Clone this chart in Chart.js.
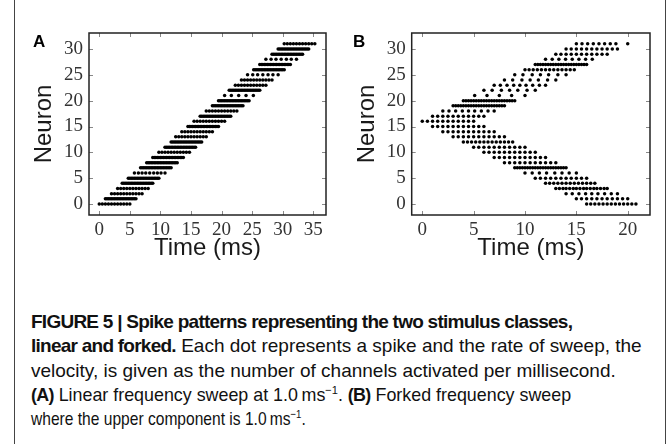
<!DOCTYPE html>
<html>
<head>
<meta charset="utf-8">
<script src="https://cdn.jsdelivr.net/npm/chart.js@4"></script>
<style>
html, body { margin: 0; padding: 0; background: #fff; }
#fig { position: relative; width: 671px; height: 444px; overflow: hidden; }
.edge { position: absolute; top: 0; bottom: 0; width: 0; border-left: 1.5px solid #444; }
#chartA { position: absolute; left: 0; top: 0; }
#chartB { position: absolute; left: 330px; top: 0; }
.panel { position: absolute; font: bold 17px "Liberation Sans", Arial, sans-serif; line-height: 17px; color: #000; }
#caption { position: absolute; left: 31px; top: 310px; font-family: "Liberation Sans", Arial, sans-serif;
  font-size: 19px; line-height: 24.3px; color: #111; white-space: nowrap; }
#caption b { letter-spacing: -0.75px; }
#caption sup { font-size: 0.62em; line-height: 0; }
#caption .tight { display: inline-block; transform-origin: 0 50%; }
</style>
</head>
<body>
<div id="fig">
  <div class="edge" style="left:14px"></div>
  <div class="edge" style="left:665px"></div>
  <canvas id="chartA" width="340" height="270"></canvas>
  <canvas id="chartB" width="340" height="270"></canvas>
  <div class="panel" style="left:33px;top:33px">A</div>
  <div class="panel" style="left:353px;top:33px">B</div>
  <div id="caption">
    <b>FIGURE 5 | Spike patterns representing the two stimulus classes,</b><br>
    <b>linear and forked.</b> Each dot represents a spike and the rate of sweep, the<br>
    velocity, is given as the number of channels activated per millisecond.<br>
    <span class="tight" style="transform:scaleX(0.94)"><b>(A)</b> Linear frequency sweep at 1.0&#8201;ms<sup>&minus;1</sup>. <b>(B)</b> Forked frequency sweep</span><br>
    <span class="tight" style="transform:scaleX(0.82)">where the upper component is 1.0&#8201;ms<sup>&minus;1</sup>.</span>
  </div>
</div>
<script>
// tick labels
const yTicks = [0, 5, 10, 15, 20, 25, 30];
const xTicksA = [0, 5, 10, 15, 20, 25, 30, 35];
const xTicksB = [0, 5, 10, 15, 20];

// spike times (ms) for each neuron, index = neuron number
const spikesA = [
  [0,0.5,1,1.5,2,2.5,3,3.5,4,4.5,5],
  [1,1.25,1.5,1.75,2,2.25,2.5,2.75,3,3.25,3.5,3.75,4,4.25,4.5,4.75,5,5.25,5.5,5.75,6],
  [2,2.5,3,3.5,4,4.5,5,5.5,6,6.5,7],
  [3,3.5,4,4.5,5,5.5,6,6.5,7,7.5,8],
  [3.75,4,4.25,4.5,4.75,5,5.25,5.5,5.75,6,6.25,6.5,6.75,7,7.25,7.5,7.75,8,8.25,8.5,8.75],
  [4.75,5,5.25,5.5,5.75,6,6.25,6.5,6.75,7,7.25,7.5,7.75,8,8.25,8.5,8.75,9,9.25,9.5,9.75],
  [5.75,6.4,7,7.6,8.25,8.9,9.5,10.1,10.75],
  [6.75,7,7.25,7.5,7.75,8,8.25,8.5,8.75,9,9.25,9.5,9.75,10,10.25,10.5,10.75,11,11.25,11.5,11.75],
  [7.75,8,8.25,8.5,8.75,9,9.25,9.5,9.75,10,10.25,10.5,10.75,11,11.25,11.5,11.75,12,12.25,12.5,12.75],
  [8.75,9,9.25,9.5,9.75,10,10.25,10.5,10.75,11,11.25,11.5,11.75,12,12.25,12.5,12.75,13,13.25,13.5,13.75],
  [9.75,10.25,10.75,11.25,11.75,12.25,12.75,13.25,13.75,14.25,14.75],
  [10.75,11,11.25,11.5,11.75,12,12.25,12.5,12.75,13,13.25,13.5,13.75,14,14.25,14.5,14.75,15,15.25,15.5,15.75],
  [11.75,12,12.25,12.5,12.75,13,13.25,13.5,13.75,14,14.25,14.5,14.75,15,15.25,15.5,15.75,16,16.25,16.5,16.75],
  [12.5,13,13.5,14,14.5,15,15.5,16,16.5,17,17.5],
  [13.5,14,14.5,15,15.5,16,16.5,17,17.5,18,18.5],
  [14.5,14.75,15,15.25,15.5,15.75,16,16.25,16.5,16.75,17,17.25,17.5,17.75,18,18.25,18.5,18.75,19,19.25,19.5],
  [15.5,16,16.5,17,17.5,18,18.5,19,19.5,20,20.5],
  [16.5,16.75,17,17.25,17.5,17.75,18,18.25,18.5,18.75,19,19.25,19.5,19.75,20,20.25,20.5,20.75,21,21.25,21.5],
  [17.5,18,18.5,19,19.5,20,20.5,21,21.5,22,22.5],
  [18.5,18.75,19,19.25,19.5,19.75,20,20.25,20.5,20.75,21,21.25,21.5,21.75,22,22.25,22.5,22.75,23,23.25,23.5],
  [19.5,19.75,20,20.25,20.5,20.75,21,21.25,21.5,21.75,22,22.25,22.5,22.75,23,23.25,23.5,23.75,24,24.25,24.5],
  [20.5,21.6,22.8,24,25.2],
  [21.25,21.5,21.75,22,22.25,22.5,22.75,23,23.25,23.5,23.75,24,24.25,24.5,24.75,25,25.25,25.5,25.75,26,26.25],
  [22.25,22.75,23.25,23.75,24.25,24.75,25.25,25.75,26.25,26.75,27.25],
  [23.25,23.75,24.25,24.75,25.25,25.75,26.25,26.75,27.25,27.75,28.25],
  [24.25,25.1,25.9,26.75,27.6,28.4,29.25],
  [25.25,25.5,25.75,26,26.25,26.5,26.75,27,27.25,27.5,27.75,28,28.25,28.5,28.75,29,29.25,29.5,29.75,30,30.25],
  [26.25,26.5,26.75,27,27.25,27.5,27.75,28,28.25,28.5,28.75,29,29.25,29.5,29.75,30,30.25,30.5,30.75,31,31.25],
  [27.25,28.1,28.9,29.75,30.6,31.4,32.25],
  [28.25,28.5,28.75,29,29.25,29.5,29.75,30,30.25,30.5,30.75,31,31.25,31.5,31.75,32,32.25,32.5,32.75,33,33.25],
  [29.25,29.5,29.75,30,30.25,30.5,30.75,31,31.25,31.5,31.75,32,32.25,32.5,32.75,33,33.25,33.5,33.75,34,34.25],
  [30.25,30.75,31.25,31.75,32.25,32.75,33.25,33.75,34.25,34.75,35.25]
];

const spikesB = [
  [16,16.4,16.8,17.2,17.6,18,18.4,18.8,19.2,19.6,20,20.4,20.8],
  [15,15.5,16,16.5,17,17.5,18,18.5,19,19.5,20],
  [14,14.6,15.25,15.9,16.5,17.1,17.75,18.4,19],
  [13,13.35,13.7,14,14.35,14.7,15,15.35,15.7,16,16.35,16.7,17,17.35,17.7,18],
  [12,12.4,12.8,13.2,13.6,14,14.4,14.8,15.2,15.6,16,16.4,16.8],
  [11,11.5,12,12.5,13,13.5,14,14.5,15,15.5,16],
  [10,10.7,11.4,12.1,12.9,13.6,14.3,15],
  [9,9.25,9.5,9.75,10,10.25,10.5,10.75,11,11.25,11.5,11.75,12,12.25,12.5,12.75,13,13.25,13.5,13.75,14],
  [8,8.5,9,9.5,10,10.5,11,11.5,12,12.5,13],
  [7,7.5,8,8.5,9,9.5,10,10.5,11,11.5,12],
  [6,6.5,7,7.5,8,8.5,9,9.5,10,10.5,11],
  [5,5.5,6,6.5,7,7.5,8,8.5,9,9.5,10],
  [4,4.4,4.8,5.2,5.6,6,6.4,6.8,7.2,7.6,8,8.4,8.8],
  [3,3.5,4,4.5,5,5.5,6,6.5,7,7.5,8],
  [2,2.5,3,3.5,4,4.5,5,5.5,6,6.5,7],
  [1,1.5,2,2.5,3,3.5,4,4.5,5,5.5,6],
  [0,0.5,1,1.5,2,2.5,3,3.5,4,4.5,5],
  [1,1.5,2,2.5,3,3.5,4,4.5,5,5.5,6],
  [2,2.6,3.25,3.9,4.5,5.1,5.75,6.4,7],
  [3,3.25,3.5,3.75,4,4.25,4.5,4.75,5,5.25,5.5,5.75,6,6.25,6.5,6.75,7,7.25,7.5,7.75,8],
  [4,4.25,4.5,4.75,5,5.25,5.5,5.75,6,6.25,6.5,6.75,7,7.25,7.5,7.75,8,8.25,8.5,8.75,9],
  [5.1,6.3,7.5,8.7,10],
  [6,6.8,7.7,8.5,9.3,10.2,11],
  [7,7.6,8.25,8.9,9.5,10.1,10.75,11.4,12],
  [8,8.8,9.7,10.5,11.3,12.2,13],
  [9,9.8,10.7,11.5,12.3,13.2,14],
  [10,10.4,10.8,11.2,11.6,12,12.4,12.8,13.2,13.6,14,14.4,14.8],
  [11,11.25,11.5,11.75,12,12.25,12.5,12.75,13,13.25,13.5,13.75,14,14.25,14.5,14.75,15,15.25,15.5,15.75,16],
  [12,12.65,13.3,13.95,14.6,15.25,15.9,16.55],
  [13,13.5,14,14.5,15,15.5,16,16.5,17,17.5,18],
  [14,14.5,15,15.5,16,16.5,17,17.5,18,18.5,19],
  [15,15.55,16.1,16.65,17.2,17.75,18.3,18.85,20]
];

function toPoints(rows) {
  return rows.flatMap((times, n) => times.map(t => ({ x: t, y: n })));
}

// frame round the plot with inward ticks on all four sides
const frameTicks = {
  id: 'frameTicks',
  beforeDatasetsDraw(chart) {
    const { ctx, chartArea: a, scales: { x, y } } = chart;
    ctx.save();
    ctx.strokeStyle = '#888';
    ctx.lineWidth = 1;
    ctx.beginPath();
    x.ticks.forEach(t => {
      const px = Math.round(x.getPixelForValue(t.value)) + 0.5;
      ctx.moveTo(px, a.bottom); ctx.lineTo(px, a.bottom - 4);
      ctx.moveTo(px, a.top); ctx.lineTo(px, a.top + 4);
    });
    y.ticks.forEach(t => {
      const py = Math.round(y.getPixelForValue(t.value)) + 0.5;
      ctx.moveTo(a.left, py); ctx.lineTo(a.left + 4, py);
      ctx.moveTo(a.right, py); ctx.lineTo(a.right - 4, py);
    });
    ctx.stroke();
    ctx.restore();
  },
  afterDraw(chart) {
    const { ctx, chartArea: a } = chart;
    ctx.save();
    ctx.strokeStyle = '#222';
    ctx.lineWidth = 1.5;
    ctx.strokeRect(a.left, a.top, a.right - a.left, a.bottom - a.top);
    ctx.restore();
  }
};

const tickFont = { family: 'Liberation Serif', size: 19 };
const titleFont = { family: 'Liberation Sans', size: 24, lineHeight: 1 };

function makeRaster(id, rows, xTicks, xMin, xMax, padLeft, padRight, yWidth) {
  new Chart(document.getElementById(id), {
    type: 'scatter',
    data: {
      datasets: [{
        data: toPoints(rows),
        pointRadius: 1.75,
        pointHoverRadius: 1.75,
        borderWidth: 0,
        backgroundColor: '#000'
      }]
    },
    options: {
      responsive: false,
      animation: false,
      events: [],
      layout: { padding: { left: padLeft, right: padRight, top: 33, bottom: 10 } },
      plugins: { legend: { display: false }, tooltip: { enabled: false } },
      scales: {
        x: {
          min: xMin, max: xMax,
          grid: { display: false, drawTicks: false },
          border: { display: false },
          afterBuildTicks: s => { s.ticks = xTicks.map(v => ({ value: v })); },
          afterFit: s => { s.height = 45; },
          ticks: { font: tickFont, color: '#333', padding: 4, maxRotation: 0, autoSkip: false },
          title: { display: true, text: 'Time (ms)', font: titleFont, color: '#1a1a1a', padding: 0 }
        },
        y: {
          min: -2.13, max: 33.1,
          grid: { display: false, drawTicks: false },
          border: { display: false },
          afterBuildTicks: s => { s.ticks = yTicks.map(v => ({ value: v })); },
          afterFit: s => { s.width = yWidth; },
          ticks: { font: tickFont, color: '#333', padding: 6 },
          title: { display: true, text: 'Neuron', font: titleFont, color: '#1a1a1a', padding: 0 }
        }
      }
    },
    plugins: [frameTicks]
  });
}

makeRaster('chartA', spikesA, xTicksA, -1.68, 37.08, 32.5, 14, 56.5);
makeRaster('chartB', spikesB, xTicksB, -1.03, 22.17, 25.5, 20, 56.2);
</script>
</body>
</html>
